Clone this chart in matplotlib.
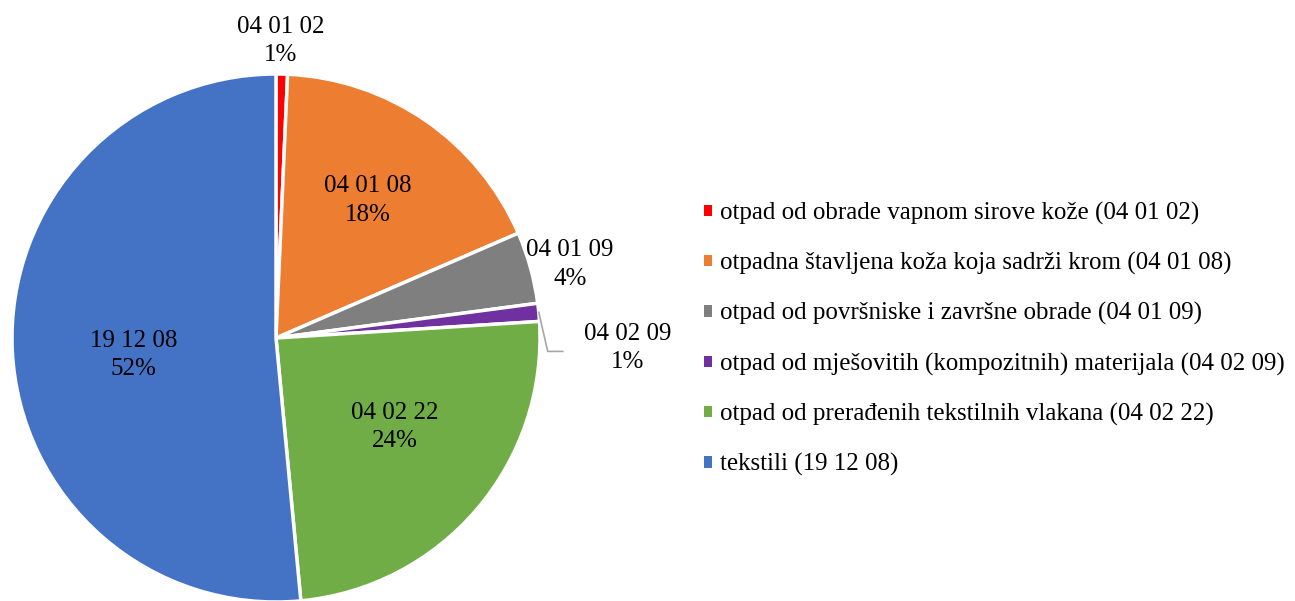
import numpy as np
import matplotlib
matplotlib.use("Agg")
import matplotlib.pyplot as plt
from matplotlib.patches import Patch

plt.rcParams["font.family"] = ["Liberation Serif", "DejaVu Serif"]

codes = ["04 01 02", "04 01 08", "04 01 09", "04 02 09", "04 02 22", "19 12 08"]
shares = [0.7, 17.8, 4.4, 1.1, 24.5, 51.5]
pct_labels = ["1%", "18%", "4%", "1%", "24%", "52%"]
legend_labels = [
    "otpad od obrade vapnom sirove kože (04 01 02)",
    "otpadna štavljena koža koja sadrži krom (04 01 08)",
    "otpad od površniske i završne obrade (04 01 09)",
    "otpad od mješovitih (kompozitnih) materijala (04 02 09)",
    "otpad od prerađenih tekstilnih vlakana (04 02 22)",
    "tekstili (19 12 08)",
]
colors = ["#FF0000", "#ED7D31", "#7F7F7F", "#7030A0", "#70AD47", "#4472C4"]

W, H = 1295, 601
fig = plt.figure(figsize=(W / 100, H / 100), dpi=100)
cx, cy, R = 276, 338, 264
ax = fig.add_axes([(cx - R) / W, (H - cy - R) / H, 2 * R / W, 2 * R / H])

wedges, _ = ax.pie(shares, colors=colors, startangle=90, counterclock=False,
                   radius=1, wedgeprops=dict(edgecolor="white", linewidth=2.5))
ax.set_xlim(-1, 1); ax.set_ylim(-1, 1)
ax.axis("off")
for w in wedges:
    w.set_clip_on(False)

# label distance (fraction of radius) and angle tweak (deg) per slice
dist = [1.125, 0.625, 1.148, 1.334, 0.563, 0.542]
tweak = [0.3, 0.8, -1.5, -7.2, 3.7, 4.1]
fs = 18
for i, w in enumerate(wedges):
    mid = np.deg2rad((w.theta1 + w.theta2) / 2 + tweak[i])
    x, y = dist[i] * np.cos(mid), dist[i] * np.sin(mid)
    ax.text(x, y, codes[i] + "\n" + pct_labels[i], ha="center", va="center",
            fontsize=fs, linespacing=1.4, clip_on=False)

# leader line for the small purple slice
pw = wedges[3]
a = np.deg2rad((pw.theta1 + pw.theta2) / 2)
x0, y0 = np.cos(a), np.sin(a)
ax.plot([x0, x0 + 0.034, x0 + 0.091], [y0, y0 - 0.148, y0 - 0.148],
        color="#A6A6A6", lw=1.2, clip_on=False)

handles = [Patch(facecolor=c, edgecolor="none") for c in colors]
fig.legend(handles, legend_labels, loc="center left", bbox_to_anchor=(704 / W, 1 - 339 / H),
           frameon=False, fontsize=fs, handlelength=0.32, handleheight=0.32,
           handletextpad=0.32, labelspacing=1.09, borderpad=0, borderaxespad=0)

fig.savefig("out.png", dpi=100)
